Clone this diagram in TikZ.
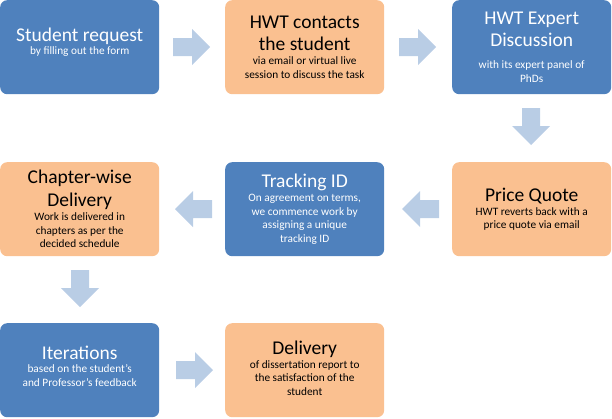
\documentclass[tikz,border=0pt]{standalone}
\usepackage{fontspec}
\setmainfont{Carlito}
\definecolor{bbox}{HTML}{4F81BD}
\definecolor{obox}{HTML}{FAC090}
\definecolor{arr}{HTML}{B9CDE5}
\newcommand{\ttlf}{\fontsize{19.5}{22.5}\selectfont}
\newcommand{\subf}{\fontsize{11.3}{13.8}\selectfont}
\begin{document}
\begin{tikzpicture}[x=1pt,y=-1pt,
 box/.style={rounded corners=7pt,minimum width=159pt,minimum height=94pt,anchor=north west,align=center,inner sep=2pt},
 blue/.style={box,fill=bbox,text=white},
 orange/.style={box,fill=obox,text=black}]
\useasboundingbox (0,0) rectangle (612,418);
\newcommand{\rarrow}[3]{\fill[arr] (#1,#2-9) -- (#1+#3*19,#2-9) -- (#1+#3*19,#2-18) -- (#1+#3*37,#2) -- (#1+#3*19,#2+18) -- (#1+#3*19,#2+9) -- (#1,#2+9) -- cycle;}
\newcommand{\darrow}[2]{\fill[arr] (#1-9,#2) -- (#1-9,#2+18) -- (#1-19,#2+18) -- (#1,#2+37) -- (#1+19,#2+18) -- (#1+9,#2+18) -- (#1+9,#2) -- cycle;}
\node[blue] (n1) at (0,0) {\begin{minipage}[c][88pt][c]{152pt}\centering{\ttlf Student request\par}\vspace{0pt}{\subf by filling out the form\par}\vspace{10pt}\end{minipage}};
\node[orange] (n2) at (225,0) {\begin{minipage}[c][88pt][c]{152pt}\centering{\ttlf HWT contacts\\the student\par}\vspace{0pt}{\subf via email or virtual live\\session to discuss the task\par}\end{minipage}};
\node[blue] (n3) at (452,0) {\begin{minipage}[c][88pt][c]{152pt}\centering{\ttlf HWT Expert\\Discussion\par}\vspace{8pt}{\subf with its expert panel of\\PhDs\par}\end{minipage}};
\node[orange] (n4) at (452,162) {\begin{minipage}[c][88pt][c]{152pt}\centering{\ttlf Price Quote\par}\vspace{0pt}{\subf HWT reverts back with a\\price quote via email\par}\end{minipage}};
\node[blue] (n5) at (225,162) {\begin{minipage}[c][88pt][c]{152pt}\centering{\ttlf Tracking ID\par}\vspace{0pt}{\subf On agreement on terms,\\we commence work by\\assigning a unique\\tracking ID\par}\end{minipage}};
\node[orange] (n6) at (0,162) {\begin{minipage}[c][88pt][c]{152pt}\centering{\ttlf Chapter-wise\\Delivery\par}\vspace{0pt}{\subf Work is delivered in\\chapters as per the\\decided schedule\par}\end{minipage}};
\node[blue] (n7) at (0,323) {\begin{minipage}[c][88pt][c]{152pt}\centering{\ttlf Iterations\par}\vspace{0pt}{\subf based on the student's\\and Professor's feedback\par}\vspace{8pt}\end{minipage}};
\node[orange] (n8) at (225,323) {\begin{minipage}[c][88pt][c]{152pt}\centering{\ttlf Delivery\par}\vspace{0pt}{\subf of dissertation report to\\the satisfaction of the\\student\par}\vspace{4pt}\end{minipage}};
\rarrow{173}{47}{1}
\rarrow{399}{47}{1}
\darrow{531}{108}
\rarrow{439}{209}{-1}
\rarrow{212}{209}{-1}
\darrow{80}{270}
\rarrow{176}{370}{1}
\end{tikzpicture}
\end{document}
